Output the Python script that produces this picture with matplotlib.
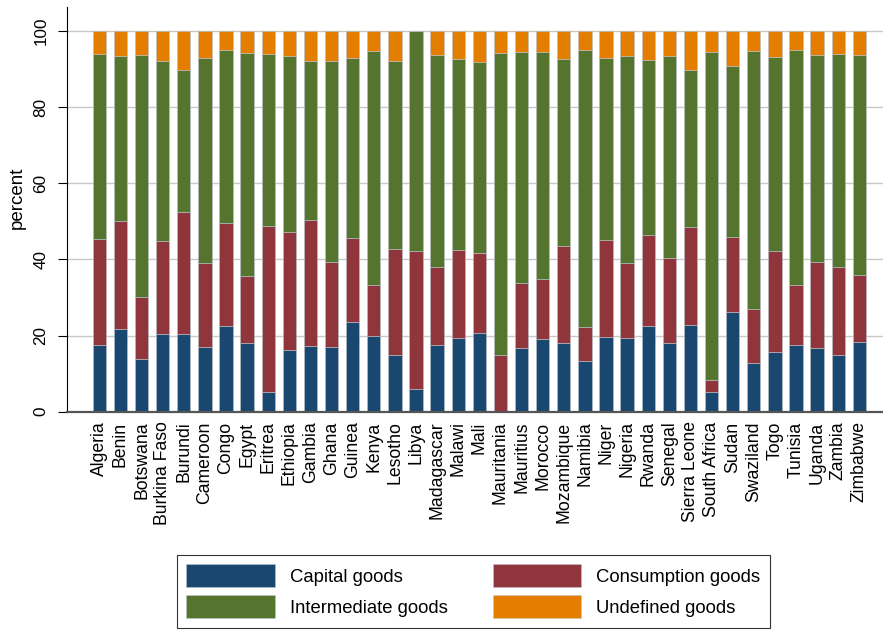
import matplotlib
matplotlib.use("Agg")
import matplotlib.pyplot as plt
import numpy as np

plt.rcParams['font.family'] = ['Liberation Sans', 'DejaVu Sans']

countries = ["Algeria", "Benin", "Botswana", "Burkina Faso", "Burundi", "Cameroon",
             "Congo", "Egypt", "Eritrea", "Ethiopia", "Gambia", "Ghana", "Guinea",
             "Kenya", "Lesotho", "Libya", "Madagascar", "Malawi", "Mali", "Mauritania",
             "Mauritius", "Morocco", "Mozambique", "Namibia", "Niger", "Nigeria",
             "Rwanda", "Senegal", "Sierra Leone", "South Africa", "Sudan", "Swaziland",
             "Togo", "Tunisia", "Uganda", "Zambia", "Zimbabwe"]

capital = [17.5, 21.7, 13.8, 20.3, 20.5, 17.0, 22.4, 18.0, 5.1, 16.2, 17.3, 17.0, 23.5,
           20.0, 14.9, 6.0, 17.5, 19.3, 20.6, 0.0, 16.8, 19.1, 18.0, 13.3, 19.6, 19.3,
           22.6, 18.0, 22.8, 5.1, 26.3, 12.8, 15.8, 17.5, 16.8, 14.9, 18.2]
consumption = [27.9, 28.4, 16.3, 24.6, 32.0, 22.1, 27.2, 17.7, 43.8, 31.1, 33.1, 22.4, 22.0,
               13.3, 27.8, 36.2, 20.4, 23.2, 21.1, 14.9, 17.0, 15.8, 25.6, 8.9, 25.6, 19.8,
               23.8, 22.3, 25.7, 3.2, 19.6, 14.1, 26.3, 15.8, 22.6, 23.0, 17.7]
intermediate = [48.5, 43.3, 63.6, 47.2, 37.3, 53.9, 45.4, 58.5, 45.0, 46.0, 41.8, 52.8, 47.4,
                61.5, 49.4, 57.8, 55.9, 50.1, 50.2, 79.3, 60.7, 59.7, 49.0, 72.8, 47.7, 54.4,
                46.0, 53.1, 41.3, 86.3, 45.0, 67.8, 51.1, 61.8, 54.2, 56.1, 57.9]
undefined = [6.1, 6.6, 6.3, 7.9, 10.2, 7.0, 5.0, 5.8, 6.1, 6.7, 7.8, 7.8, 7.1,
             5.2, 7.9, 0.0, 6.2, 7.4, 8.1, 5.8, 5.5, 5.4, 7.4, 5.0, 7.1, 6.5,
             7.6, 6.6, 10.2, 5.4, 9.1, 5.3, 6.8, 4.9, 6.4, 6.0, 6.2]

series_names = ["Capital goods", "Consumption goods", "Intermediate goods", "Undefined goods"]
colors = ["#1a476f", "#90353b", "#55752f", "#e37e00"]

fig = plt.figure(figsize=(8.83, 6.30), dpi=100)
ax = fig.add_axes([66.7 / 883, 1 - 411.7 / 630, 1 - 66.7 / 883, (411.7 - 7) / 630])

x = np.arange(len(countries))
bottom = np.zeros(len(countries))
handles = []
for vals, col, name in zip([capital, consumption, intermediate, undefined], colors, series_names):
    v = np.array(vals)
    b = ax.bar(x, v, width=0.63, bottom=bottom, color=col, edgecolor=(0.72, 0.75, 0.78, 0.7),
               linewidth=0.6, zorder=3, label=name)
    handles.append(b)
    bottom = bottom + v

ax.set_xlim(-1.545, 37.12)
ax.set_ylim(0, 106.3)
ax.set_yticks([0, 20, 40, 60, 80, 100])
ax.set_yticklabels(["0", "20", "40", "60", "80", "100"], rotation=90, va='center', fontsize=12.3)
ax.tick_params(axis='y', length=6.7, width=0.8, pad=6.5, color='black')
ax.set_xticks(x)
ax.set_xticklabels(countries, rotation=90, fontsize=12.7)
ax.tick_params(axis='x', length=0, pad=7)
ax.yaxis.grid(True, color='#c8c8c8', linewidth=1.0, zorder=0)
ax.set_axisbelow(True)
for s in ['top', 'right']:
    ax.spines[s].set_visible(False)
ax.spines['left'].set_color('black')
ax.spines['left'].set_linewidth(0.8)
ax.spines['bottom'].set_color('#555555')
ax.spines['bottom'].set_linewidth(1.6)
ax.spines['bottom'].set_zorder(4)

fig.text(17 / 883, 1 - 198 / 630, "percent", rotation=90, fontsize=13.5,
         ha='center', va='center')

# legend filled row-wise: Capital, Consumption / Intermediate, Undefined
order = [0, 2, 1, 3]
leg = fig.legend(handles=[handles[i] for i in order], labels=[series_names[i] for i in order],
                 ncol=2, loc='upper left', bbox_to_anchor=(177 / 883, 1 - 555 / 630),
                 fontsize=13.3, frameon=True, fancybox=False, edgecolor='black',
                 handlelength=4.8, handleheight=1.55, handletextpad=0.8,
                 columnspacing=2.45, labelspacing=0.42, borderpad=0.5, borderaxespad=0)
leg.get_frame().set_linewidth(0.8)
for h in leg.legend_handles:
    h.set_edgecolor((0.75, 0.78, 0.8, 0.6))

fig.savefig("out.png", dpi=100)
